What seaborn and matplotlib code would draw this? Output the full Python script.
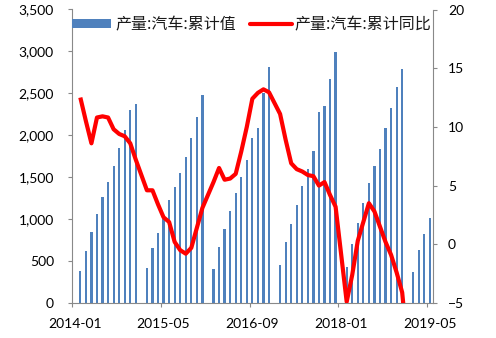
import numpy as np
import pandas as pd
import matplotlib
matplotlib.use("Agg")
import matplotlib.pyplot as plt
from matplotlib.patches import Rectangle
from matplotlib.lines import Line2D
import seaborn as sns

# Monthly cumulative car production (10k units) and cumulative YoY growth (%),
# 2014-01 .. 2019-05. January is reported together with February, so it is empty.
months = pd.period_range("2014-01", "2019-05", freq="M").strftime("%Y-%m").tolist()

production = [
    np.nan, 381, 620, 846, 1057, 1260, 1446, 1637, 1847, 2062, 2300, 2372,   # 2014
    np.nan, 421, 659, 834, 997, 1228, 1379, 1549, 1744, 1967, 2221, 2479,    # 2015
    np.nan, 409, 664, 886, 1097, 1315, 1506, 1708, 1970, 2089, 2510, 2816,   # 2016
    np.nan, 453, 727, 945, 1168, 1394, 1593, 1812, 2273, 2348, 2670, 2988,   # 2017
    np.nan, 433, 709, 953, 1196, 1426, 1633, 1835, 2082, 2320, 2578, 2789,   # 2018
    np.nan, 369, 628, 826, 1013,                                             # 2019
]

yoy = [
    np.nan, 12.5, 10.5, 8.6, 10.8, 10.9, 10.8, 9.8, 9.4, 9.2, 8.6, 7.2,      # 2014
    np.nan, 4.6, 4.6, 3.4, 2.3, 1.9, 0.2, -0.5, -0.8, -0.3, 1.4, 3.1,       # 2015
    np.nan, 5.3, 6.5, 5.5, 5.6, 6.0, 7.9, 10.0, 12.4, 12.9, 13.2, 12.95,    # 2016
    np.nan, 11.1, 8.9, 6.9, 6.4, 6.2, 5.9, 5.8, 5.0, 5.3, 4.2, 3.2,         # 2017
    np.nan, -4.9, -2.6, 0.3, 1.9, 3.5, 2.8, 1.5, 0.2, -0.9, -2.4, -4.1,     # 2018
    np.nan, -13.8, -9.8, -11.0, -12.6,                                      # 2019
]

tick_labels = ["2014-01", "2015-05", "2016-09", "2018-01", "2019-05"]
bar_label = "产量:汽车:累计值"
line_label = "产量:汽车:累计同比"

df = pd.DataFrame({"month": months, "production": production, "yoy": yoy})
df["idx"] = np.arange(len(df))
bars_df = df.dropna(subset=["production"])
line_df = df.dropna(subset=["yoy"])

sns.set_theme(style="white")
plt.rcParams["font.family"] = ["Lato", "DejaVu Sans"]

BAR_COLOR = "#4F81BD"
LINE_COLOR = "#FF0000"
AXIS_GRAY = "#898989"

fig = plt.figure(figsize=(4.96, 3.38), dpi=100)
ax = fig.add_axes([72 / 496, 1 - 303 / 338, (432.7 - 72) / 496, (303 - 9.5) / 338])
ax2 = ax.twinx()

sns.barplot(data=bars_df, x="idx", y="production", native_scale=True, width=0.4,
            color=BAR_COLOR, saturation=1, linewidth=0, errorbar=None, ax=ax)
sns.lineplot(data=line_df, x="idx", y="yoy", color=LINE_COLOR, linewidth=3,
             solid_joinstyle="round", solid_capstyle="butt", ax=ax2)

n = len(df)
ax.set_xlim(-0.5, n - 0.5)
ax.set_ylim(0, 3500)
ax2.set_ylim(-5, 20)

# category boundaries carry the tick marks, labels sit on the month itself
label_pos = [months.index(m) for m in tick_labels]
ax.set_xticks([p - 0.5 for p in label_pos])
ax.set_xticklabels([])
ax.set_xticks(label_pos, minor=True)
ax.set_xticklabels(tick_labels, minor=True)

ax.set_yticks(np.arange(0, 3501, 500))
ax.set_yticklabels([f"{v:,}" for v in range(0, 3501, 500)])
ax2.set_yticks(np.arange(-5, 21, 5))

for a in (ax, ax2):
    a.set_xlabel("")
    a.set_ylabel("")
    a.grid(False)
    for s in a.spines.values():
        s.set_color(AXIS_GRAY)
        s.set_linewidth(0.8)
    a.spines["top"].set_visible(False)
ax.spines["right"].set_visible(False)
ax2.spines["left"].set_visible(False)
ax2.spines["bottom"].set_visible(False)

ax.tick_params(axis="x", which="major", direction="out", length=3.2, width=0.8,
               color=AXIS_GRAY, bottom=True)
ax.tick_params(axis="x", which="minor", length=0, pad=10.5, labelsize=10,
               labelcolor="black", bottom=True)
ax.tick_params(axis="y", direction="out", length=3, width=0.8, color=AXIS_GRAY,
               pad=10, labelsize=10, labelcolor="black", left=True)
ax2.tick_params(axis="y", direction="out", length=3, width=0.8, color=AXIS_GRAY,
                pad=8, labelsize=10, labelcolor="black", right=True)

leg_font = {"family": ["Noto Sans CJK SC", "DejaVu Sans"], "size": 11.5}
bar_handle = Rectangle((0, 0), 1, 1, facecolor=BAR_COLOR, edgecolor="none")
line_handle = Line2D([0], [0], color=LINE_COLOR, linewidth=3)

leg1 = ax2.legend([bar_handle], [bar_label], loc="center left",
                  bbox_to_anchor=(72 / 496, 1 - 25 / 338), bbox_transform=fig.transFigure,
                  frameon=False, borderpad=0, borderaxespad=0, handlelength=2.45,
                  handleheight=0.5, handletextpad=0.3, prop=leg_font)
ax2.add_artist(leg1)
leg2 = ax2.legend([line_handle], [line_label], loc="center left",
                  bbox_to_anchor=(250 / 496, 1 - 25 / 338), bbox_transform=fig.transFigure,
                  frameon=False, borderpad=0, borderaxespad=0, handlelength=2.6,
                  handletextpad=0.2, prop=leg_font)
for leg in (leg1, leg2):
    for t in leg.get_texts():
        t.set_color("#1a1a1a")

fig.savefig("out.png", dpi=100)
